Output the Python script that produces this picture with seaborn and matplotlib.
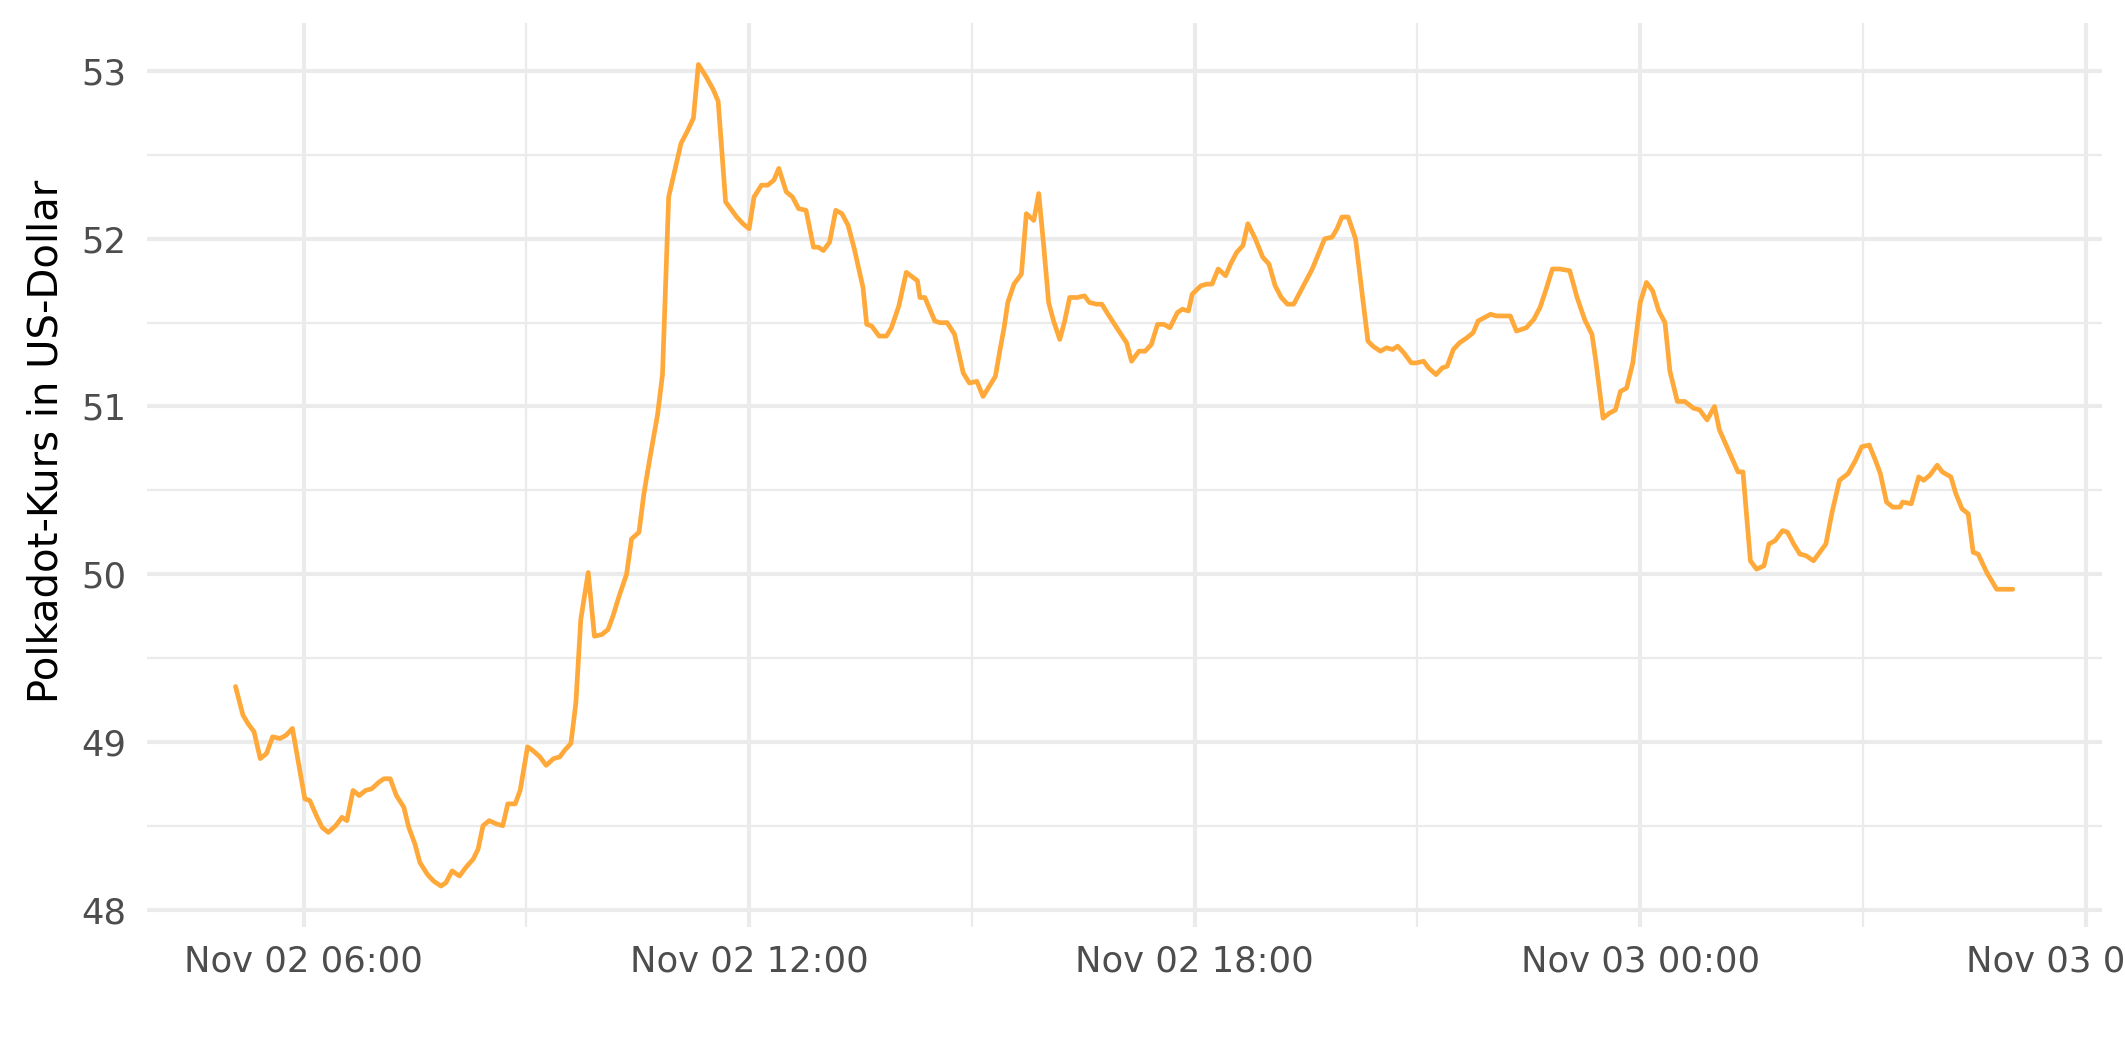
import pandas as pd
import matplotlib
matplotlib.use("Agg")
import matplotlib.pyplot as plt
import matplotlib.dates as mdates
from matplotlib.ticker import MultipleLocator
import seaborn as sns

# --- Daten: Minuten seit 02.11.2021 00:00 und Kurs in USD ---
minuten = [
    305, 311, 315, 320, 325, 330, 335, 341, 346, 351, 361, 365, 371, 375, 380, 386,
    391, 395, 400, 405, 410, 415, 421, 425, 430, 435, 441, 445, 450, 454, 460, 465,
    471, 475, 480, 486, 491, 497, 501, 505, 510, 516, 521, 525, 531, 535, 541, 545,
    551, 556, 562, 567, 571, 576, 580, 584, 590, 595, 601, 606, 610, 615, 621, 625,
    631, 635, 640, 646, 650, 655, 660, 665, 670, 675, 679, 685, 691, 695, 701, 704,
    710, 715, 720, 724, 730, 735, 740, 744, 750, 755, 760, 766, 772, 776, 780, 785,
    790, 795, 800, 805, 812, 815, 819, 825, 831, 835, 841, 847, 856, 858, 862, 870,
    874, 880, 886, 893, 898, 904, 909, 914, 919, 923, 926, 929, 934, 940, 944, 950,
    954, 958, 962, 966, 971, 975, 979, 985, 991, 995, 1001, 1005, 1010, 1017, 1025, 1029,
    1035, 1040, 1045, 1050, 1055, 1060, 1066, 1070, 1075, 1078, 1085, 1090, 1094, 1099, 1105, 1109,
    1114, 1119, 1123, 1129, 1135, 1140, 1145, 1150, 1155, 1160, 1165, 1175, 1180, 1185, 1191, 1195,
    1199, 1204, 1210, 1216, 1220, 1224, 1230, 1235, 1240, 1244, 1249, 1255, 1259, 1265, 1269, 1275,
    1280, 1284, 1289, 1294, 1300, 1305, 1309, 1314, 1319, 1324, 1330, 1335, 1340, 1348, 1354, 1359,
    1364, 1369, 1375, 1383, 1389, 1395, 1401, 1404, 1410, 1415, 1420, 1424, 1429, 1434, 1440, 1445,
    1450, 1455, 1460, 1464, 1470, 1476, 1483, 1488, 1494, 1500, 1504, 1510, 1516, 1519, 1523, 1529,
    1534, 1540, 1544, 1549, 1555, 1559, 1564, 1569, 1574, 1580, 1585, 1590, 1595, 1601, 1608, 1614,
    1619, 1625, 1630, 1634, 1639, 1644, 1650, 1652, 1659, 1665, 1669, 1674, 1680, 1684, 1691, 1695,
    1700, 1705, 1709, 1713, 1720, 1728, 1734, 1741,
]
kurs = [
    49.33, 49.16, 49.11, 49.06, 48.90, 48.93, 49.03, 49.02, 49.04, 49.08, 48.66, 48.65, 48.55, 48.49, 48.46, 48.50,
    48.55, 48.53, 48.71, 48.68, 48.71, 48.72, 48.76, 48.78, 48.78, 48.68, 48.61, 48.49, 48.39, 48.28, 48.21, 48.17,
    48.14, 48.16, 48.23, 48.20, 48.25, 48.30, 48.36, 48.50, 48.53, 48.51, 48.50, 48.63, 48.63, 48.71, 48.97, 48.95,
    48.91, 48.86, 48.90, 48.91, 48.95, 48.99, 49.23, 49.73, 50.01, 49.63, 49.64, 49.67, 49.75, 49.87, 50.00, 50.21,
    50.25, 50.48, 50.70, 50.95, 51.19, 52.25, 52.41, 52.57, 52.64, 52.72, 53.04, 52.97, 52.89, 52.82, 52.22, 52.19,
    52.13, 52.09, 52.06, 52.25, 52.32, 52.32, 52.35, 52.42, 52.28, 52.25, 52.18, 52.17, 51.95, 51.95, 51.93, 51.98,
    52.17, 52.15, 52.08, 51.94, 51.71, 51.49, 51.48, 51.42, 51.42, 51.47, 51.60, 51.80, 51.75, 51.65, 51.65, 51.51,
    51.50, 51.50, 51.43, 51.20, 51.14, 51.15, 51.06, 51.12, 51.18, 51.35, 51.47, 51.62, 51.73, 51.79, 52.15, 52.11,
    52.27, 51.96, 51.62, 51.51, 51.40, 51.51, 51.65, 51.65, 51.66, 51.62, 51.61, 51.61, 51.55, 51.47, 51.38, 51.27,
    51.33, 51.33, 51.37, 51.49, 51.49, 51.47, 51.56, 51.58, 51.57, 51.67, 51.72, 51.73, 51.73, 51.82, 51.78, 51.85,
    51.92, 51.96, 52.09, 52.00, 51.89, 51.85, 51.72, 51.65, 51.61, 51.61, 51.68, 51.82, 51.91, 52.00, 52.01, 52.06,
    52.13, 52.13, 52.00, 51.63, 51.39, 51.36, 51.33, 51.35, 51.34, 51.36, 51.32, 51.26, 51.26, 51.27, 51.23, 51.19,
    51.23, 51.24, 51.34, 51.38, 51.41, 51.44, 51.51, 51.53, 51.55, 51.54, 51.54, 51.54, 51.45, 51.47, 51.52, 51.59,
    51.70, 51.82, 51.82, 51.81, 51.65, 51.52, 51.43, 51.28, 50.93, 50.96, 50.98, 51.09, 51.11, 51.26, 51.62, 51.74,
    51.69, 51.57, 51.50, 51.21, 51.03, 51.03, 50.99, 50.98, 50.92, 51.00, 50.86, 50.76, 50.66, 50.61, 50.61, 50.08,
    50.03, 50.05, 50.18, 50.20, 50.26, 50.25, 50.18, 50.12, 50.11, 50.08, 50.13, 50.18, 50.37, 50.56, 50.60, 50.68,
    50.76, 50.77, 50.68, 50.60, 50.43, 50.40, 50.40, 50.43, 50.42, 50.58, 50.56, 50.59, 50.65, 50.61, 50.58, 50.48,
    50.39, 50.36, 50.13, 50.12, 50.01, 49.91, 49.91, 49.91,
]

df = pd.DataFrame({
    "zeit": pd.Timestamp("2021-11-02") + pd.to_timedelta(minuten, unit="min"),
    "kurs": kurs,
})

sns.set_theme(style="whitegrid")
plt.rcParams["font.family"] = ["DejaVu Sans"]

fig, ax = plt.subplots(figsize=(10, 1062 / 212.5), dpi=212.5)
fig.subplots_adjust(left=0.069, right=0.989, top=0.978, bottom=0.127)

sns.lineplot(data=df, x="zeit", y="kurs", ax=ax, color="#FFA93A", linewidth=1.6)

ax.xaxis.set_major_locator(mdates.HourLocator(byhour=[0, 6, 12, 18]))
ax.xaxis.set_minor_locator(mdates.HourLocator(byhour=[3, 9, 15, 21]))
ax.xaxis.set_major_formatter(mdates.DateFormatter("%b %d %H:%M"))
ax.yaxis.set_major_locator(MultipleLocator(1))
ax.yaxis.set_minor_locator(MultipleLocator(0.5))
ax.margins(x=0.05, y=0.05)

ax.grid(which="major", color="#EBEBEB", linewidth=1.4)
ax.grid(which="minor", color="#EBEBEB", linewidth=0.75)
for s in ax.spines.values():
    s.set_visible(False)
ax.tick_params(which="both", length=0, labelsize=12, labelcolor="#4D4D4D")
ax.tick_params(axis="x", pad=6)
ax.tick_params(axis="y", pad=7)

ax.set_xlabel("")
ax.set_ylabel("Polkadot-Kurs in US-Dollar", fontsize=13.6, color="black", labelpad=5)
ax.yaxis.label.set_y(0.538)

fig.savefig("out.png", dpi=212.5)
